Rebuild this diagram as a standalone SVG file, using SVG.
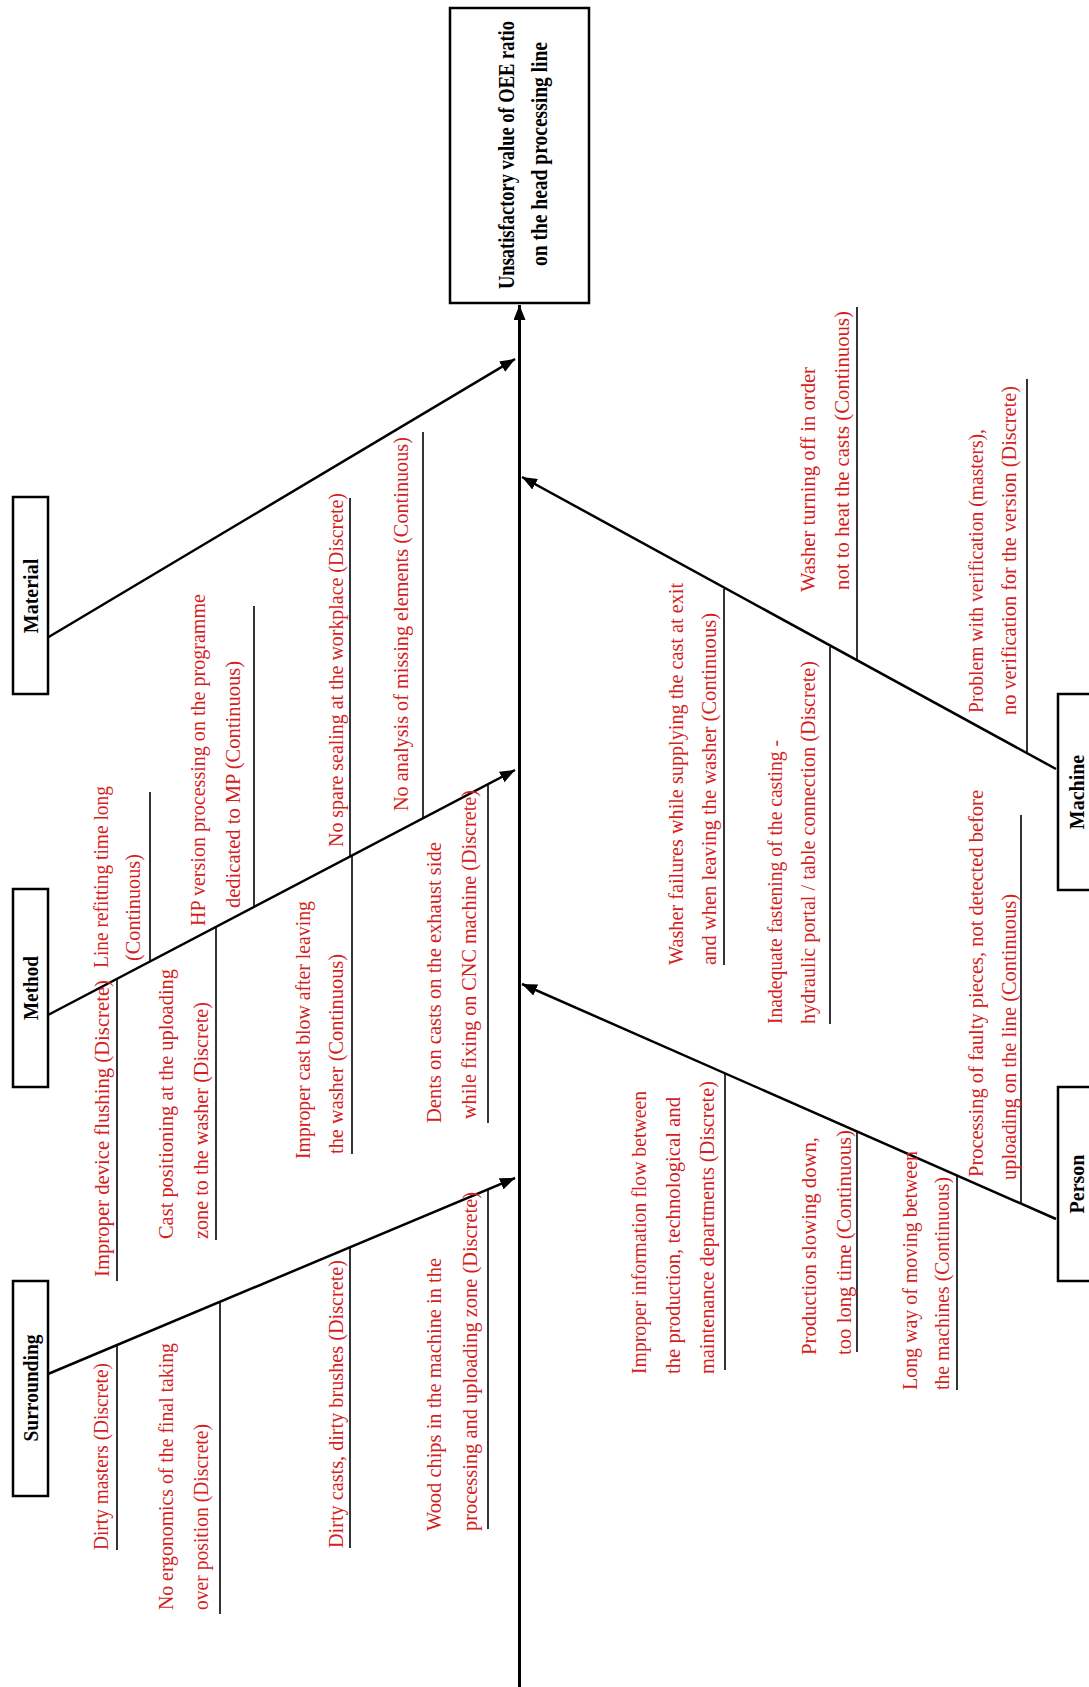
<svg xmlns="http://www.w3.org/2000/svg" width="1089" height="1687" viewBox="0 0 1089 1687">
<style>
.bg{fill:#ffffff}
.box{fill:#ffffff;stroke:#000;stroke-width:2.5}
.lbl{font-family:"Liberation Serif","Times New Roman",serif;font-weight:bold;font-size:20px;fill:#000}
.hd{font-family:"Liberation Serif","Times New Roman",serif;font-weight:bold;font-size:20px;fill:#000}
.c{font-family:"Liberation Serif","Times New Roman",serif;font-size:21px;fill:#d41f1f}
.r{font-family:"Liberation Serif","Times New Roman",serif;font-size:22px;fill:#d41f1f}
.br{stroke:#000;stroke-width:2.5;fill:none}
.sp{stroke:#000;stroke-width:3;fill:none}
.sub{stroke:#000;stroke-width:1.6;fill:none}
</style>
<defs>
<marker id="ah" markerUnits="userSpaceOnUse" markerWidth="16" markerHeight="12" refX="15" refY="6" orient="auto">
<path d="M0,0 L15,6 L0,12 z" fill="#000"/>
</marker>
</defs>
<rect class="bg" x="0" y="0" width="1089" height="1687"/>

<g id="connectors">
<line class="sp" x1="519.5" y1="1690" x2="519.5" y2="305" marker-end="url(#ah)"/>
<line class="br" x1="47" y1="638" x2="515" y2="359" marker-end="url(#ah)"/>
<line class="br" x1="48" y1="1015" x2="515" y2="770" marker-end="url(#ah)"/>
<line class="br" x1="48" y1="1374" x2="515" y2="1178" marker-end="url(#ah)"/>
<line class="br" x1="1056" y1="769" x2="522" y2="477" marker-end="url(#ah)"/>
<line class="br" x1="1056" y1="1219" x2="522" y2="984" marker-end="url(#ah)"/>
<line class="sub" x1="150" y1="792" x2="150" y2="962"/>
<line class="sub" x1="254" y1="606" x2="254" y2="907"/>
<line class="sub" x1="350" y1="498" x2="350" y2="857"/>
<line class="sub" x1="423" y1="432" x2="423" y2="818"/>
<line class="sub" x1="117" y1="978" x2="117" y2="1281"/>
<line class="sub" x1="216" y1="927" x2="216" y2="1240"/>
<line class="sub" x1="352" y1="856" x2="352" y2="1154"/>
<line class="sub" x1="488" y1="784" x2="488" y2="1123"/>
<line class="sub" x1="117" y1="1345" x2="117" y2="1550"/>
<line class="sub" x1="220" y1="1302" x2="220" y2="1614"/>
<line class="sub" x1="350" y1="1248" x2="350" y2="1548"/>
<line class="sub" x1="488" y1="1190" x2="488" y2="1529"/>
<line class="sub" x1="857" y1="307" x2="857" y2="661"/>
<line class="sub" x1="1027" y1="379" x2="1027" y2="752"/>
<line class="sub" x1="724" y1="589" x2="724" y2="965"/>
<line class="sub" x1="830" y1="647" x2="830" y2="1024"/>
<line class="sub" x1="1021" y1="815" x2="1021" y2="1204"/>
<line class="sub" x1="725" y1="1074" x2="725" y2="1370"/>
<line class="sub" x1="857" y1="1132" x2="857" y2="1352"/>
<line class="sub" x1="957" y1="1176" x2="957" y2="1390"/>
</g>

<g id="effect">
<rect class="box" x="450" y="8" width="139" height="295"/>
<text class="hd" text-anchor="middle" transform="translate(514,155) rotate(-90) scale(1,1.12)" textLength="268" lengthAdjust="spacingAndGlyphs">Unsatisfactory value of OEE ratio</text>
<text class="hd" text-anchor="middle" transform="translate(547,154) rotate(-90) scale(1,1.12)" textLength="224" lengthAdjust="spacingAndGlyphs">on the head processing line</text>
</g>

<g id="material">
<rect class="box" x="13" y="497" width="35" height="197"/>
<text class="lbl" text-anchor="middle" transform="translate(38,596) rotate(-90)">Material</text>
</g>

<g id="method">
<rect class="box" x="13" y="889" width="35" height="198"/>
<text class="lbl" text-anchor="middle" transform="translate(38,988) rotate(-90)" textLength="64" lengthAdjust="spacingAndGlyphs">Method</text>
</g>

<g id="surrounding">
<rect class="box" x="13" y="1281" width="35" height="215"/>
<text class="lbl" text-anchor="middle" transform="translate(38,1388) rotate(-90)" textLength="107" lengthAdjust="spacingAndGlyphs">Surrounding</text>
</g>

<g id="machine">
<rect class="box" x="1058" y="694" width="50" height="196"/>
<text class="lbl" text-anchor="middle" transform="translate(1084,792) rotate(-90)">Machine</text>
</g>

<g id="person">
<rect class="box" x="1058" y="1087" width="50" height="194"/>
<text class="lbl" text-anchor="middle" transform="translate(1084,1184) rotate(-90)">Person</text>
</g>

<g id="method-causes">
<text class="c" transform="translate(108,968) rotate(-90)" textLength="182" lengthAdjust="spacingAndGlyphs">Line refitting time long</text>
<text class="c" transform="translate(140,961) rotate(-90)" textLength="107" lengthAdjust="spacingAndGlyphs">(Continuous)</text>
<text class="c" transform="translate(205,926) rotate(-90)" textLength="332" lengthAdjust="spacingAndGlyphs">HP version processing on the programme</text>
<text class="c" transform="translate(240,908) rotate(-90)" textLength="247" lengthAdjust="spacingAndGlyphs">dedicated to MP (Continuous)</text>
<text class="c" transform="translate(343,847) rotate(-90)" textLength="354" lengthAdjust="spacingAndGlyphs">No spare sealing at the workplace (Discrete)</text>
<text class="c" transform="translate(408,811) rotate(-90)" textLength="374" lengthAdjust="spacingAndGlyphs">No analysis of missing elements (Continuous)</text>
<text class="c" transform="translate(109,1277) rotate(-90)" textLength="297" lengthAdjust="spacingAndGlyphs">Improper device flushing (Discrete)</text>
<text class="c" transform="translate(173,1239) rotate(-90)" textLength="270" lengthAdjust="spacingAndGlyphs">Cast positioning at the uploading</text>
<text class="c" transform="translate(208,1239) rotate(-90)" textLength="237" lengthAdjust="spacingAndGlyphs">zone to the washer (Discrete)</text>
<text class="c" transform="translate(310,1159) rotate(-90)" textLength="258" lengthAdjust="spacingAndGlyphs">Improper cast blow after leaving</text>
<text class="c" transform="translate(343,1154) rotate(-90)" textLength="200" lengthAdjust="spacingAndGlyphs">the washer (Continuous)</text>
<text class="c" transform="translate(441,1123) rotate(-90)" textLength="281" lengthAdjust="spacingAndGlyphs">Dents on casts on the exhaust side</text>
<text class="c" transform="translate(476,1119) rotate(-90)" textLength="329" lengthAdjust="spacingAndGlyphs">while fixing on CNC machine (Discrete)</text>
</g>

<g id="surrounding-causes">
<text class="c" transform="translate(108,1550) rotate(-90)" textLength="187" lengthAdjust="spacingAndGlyphs">Dirty masters (Discrete)</text>
<text class="c" transform="translate(173,1610) rotate(-90)" textLength="267" lengthAdjust="spacingAndGlyphs">No ergonomics of the final taking</text>
<text class="c" transform="translate(208,1610) rotate(-90)" textLength="186" lengthAdjust="spacingAndGlyphs">over position (Discrete)</text>
<text class="c" transform="translate(343,1548) rotate(-90)" textLength="288" lengthAdjust="spacingAndGlyphs">Dirty casts, dirty brushes (Discrete)</text>
<text class="c" transform="translate(441,1531) rotate(-90)" textLength="273" lengthAdjust="spacingAndGlyphs">Wood chips in the machine in the</text>
<text class="c" transform="translate(477,1531) rotate(-90)" textLength="339" lengthAdjust="spacingAndGlyphs">processing and uploading zone (Discrete)</text>
</g>

<g id="machine-causes">
<text class="r" transform="translate(815,592) rotate(-90)" textLength="225" lengthAdjust="spacingAndGlyphs">Washer turning off in order</text>
<text class="r" transform="translate(849,590) rotate(-90)" textLength="279" lengthAdjust="spacingAndGlyphs">not to heat the casts (Continuous)</text>
<text class="r" transform="translate(983,713) rotate(-90)" textLength="284" lengthAdjust="spacingAndGlyphs">Problem with verification (masters),</text>
<text class="r" transform="translate(1016,715) rotate(-90)" textLength="329" lengthAdjust="spacingAndGlyphs">no verification for the version (Discrete)</text>
<text class="r" transform="translate(683,965) rotate(-90)" textLength="382" lengthAdjust="spacingAndGlyphs">Washer failures while supplying the cast at exit</text>
<text class="r" transform="translate(716,965) rotate(-90)" textLength="352" lengthAdjust="spacingAndGlyphs">and when leaving the washer (Continuous)</text>
<text class="r" transform="translate(782,1024) rotate(-90)" textLength="284" lengthAdjust="spacingAndGlyphs">Inadequate fastening of the casting -</text>
<text class="r" transform="translate(815,1024) rotate(-90)" textLength="363" lengthAdjust="spacingAndGlyphs">hydraulic portal / table connection (Discrete)</text>
</g>

<g id="person-causes">
<text class="r" transform="translate(983,1177) rotate(-90)" textLength="387" lengthAdjust="spacingAndGlyphs">Processing of faulty pieces, not detected before</text>
<text class="r" transform="translate(1016,1180) rotate(-90)" textLength="286" lengthAdjust="spacingAndGlyphs">uploading on the line (Continuous)</text>
<text class="r" transform="translate(646,1374) rotate(-90)" textLength="283" lengthAdjust="spacingAndGlyphs">Improper information flow between</text>
<text class="r" transform="translate(680,1374) rotate(-90)" textLength="277" lengthAdjust="spacingAndGlyphs">the production, technological and</text>
<text class="r" transform="translate(714,1374) rotate(-90)" textLength="293" lengthAdjust="spacingAndGlyphs">maintenance departments (Discrete)</text>
<text class="r" transform="translate(816,1355) rotate(-90)" textLength="218" lengthAdjust="spacingAndGlyphs">Production slowing down,</text>
<text class="r" transform="translate(851,1355) rotate(-90)" textLength="225" lengthAdjust="spacingAndGlyphs">too long time (Continuous)</text>
<text class="r" transform="translate(917,1390) rotate(-90)" textLength="239" lengthAdjust="spacingAndGlyphs">Long way of moving between</text>
<text class="r" transform="translate(949,1390) rotate(-90)" textLength="213" lengthAdjust="spacingAndGlyphs">the machines (Continuous)</text>
</g>
</svg>
